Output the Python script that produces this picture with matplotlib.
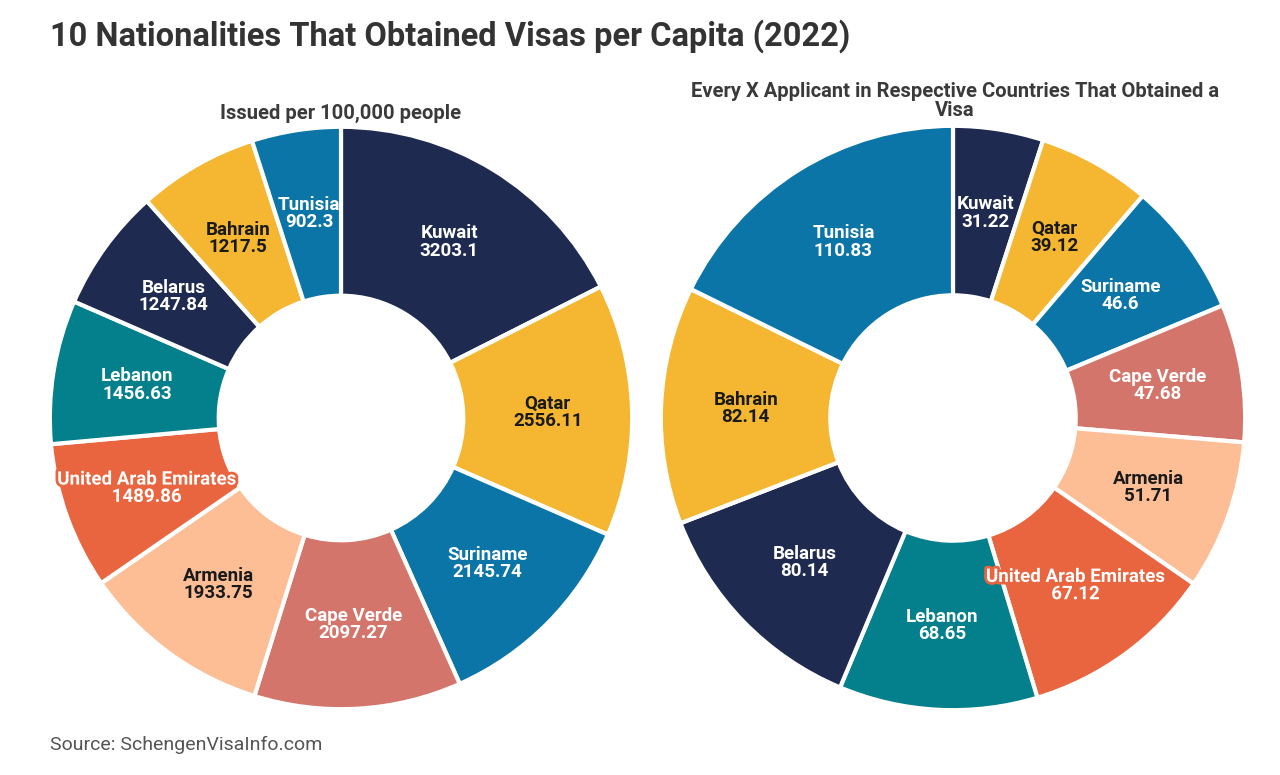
import matplotlib
matplotlib.use("Agg")
import matplotlib.pyplot as plt
import matplotlib.patheffects as pe
import numpy as np

countries = ["Kuwait", "Qatar", "Suriname", "Cape Verde", "Armenia",
             "United Arab Emirates", "Lebanon", "Belarus", "Bahrain", "Tunisia"]
per_100k = [3203.1, 2556.11, 2145.74, 2097.27, 1933.75, 1489.86, 1456.63, 1247.84, 1217.5, 902.3]
every_x = [31.22, 39.12, 46.6, 47.68, 51.71, 67.12, 68.65, 80.14, 82.14, 110.83]
per_100k_labels = ["3203.1", "2556.11", "2145.74", "2097.27", "1933.75", "1489.86", "1456.63", "1247.84", "1217.5", "902.3"]
every_x_labels = ["31.22", "39.12", "46.6", "47.68", "51.71", "67.12", "68.65", "80.14", "82.14", "110.83"]

colors = ["#1e2a4f", "#f5b731", "#0b75a8", "#d4756b", "#fdbe96",
          "#e8653f", "#03808b", "#1e2a4f", "#f5b731", "#0b75a8"]
text_colors = ["white", "#1a1a1a", "white", "white", "#1a1a1a",
               "white", "white", "white", "#1a1a1a", "white"]

FONT = "Roboto"
W, H = 1280, 775
fig = plt.figure(figsize=(W / 100, H / 100), dpi=100)
fig.patch.set_facecolor("white")

def make_ax(cx, cy, r):
    return fig.add_axes([(cx - r) / W, (H - cy - r) / H, 2 * r / W, 2 * r / H])

def donut(ax, values, labels):
    inner = 0.42
    wedges, _ = ax.pie(values, colors=colors, startangle=90, counterclock=False,
                       radius=1.0,
                       wedgeprops=dict(width=1 - inner, edgecolor="white",
                                       linewidth=3, joinstyle="round"))
    for i, w in enumerate(wedges):
        ang = np.deg2rad((w.theta1 + w.theta2) / 2)
        rr = (1 + inner) / 2
        x, y = rr * np.cos(ang), rr * np.sin(ang)
        t = ax.text(x, y, f"{countries[i]}\n{labels[i]}", ha="center", va="center",
                    color=text_colors[i], fontsize=13.5, fontweight="bold",
                    family=FONT, linespacing=0.95)
        if countries[i] == "United Arab Emirates":
            t.set_path_effects([pe.withStroke(linewidth=4, foreground=colors[i])])
    ax.set_xlim(-1.02, 1.02)
    ax.set_ylim(-1.02, 1.02)
    ax.set_aspect("equal")
    ax.axis("off")

ax1 = make_ax(341, 418, 297)
donut(ax1, per_100k, per_100k_labels)
ax2 = make_ax(953, 418, 298)
donut(ax2, every_x, every_x_labels)

fig.text(50 / W, 1 - 36 / H, "10 Nationalities That Obtained Visas per Capita (2022)",
         ha="left", va="center", fontsize=23.5, fontweight="bold", color="#333333", family=FONT)
fig.text(341 / W, 1 - 113 / H, "Issued per 100,000 people", ha="center", va="center",
         fontsize=14.5, fontweight="bold", color="#3a3a3a", family=FONT)
fig.text(955 / W, 1 - 101 / H, "Every X Applicant in Respective Countries That Obtained a\nVisa",
         ha="center", va="center", fontsize=14.5, fontweight="bold", color="#3a3a3a",
         family=FONT, linespacing=1.05)
fig.text(50 / W, 1 - 745 / H, "Source: SchengenVisaInfo.com", ha="left", va="center",
         fontsize=14, color="#555555", family=FONT)

fig.savefig("out.png", dpi=100, facecolor="white")
